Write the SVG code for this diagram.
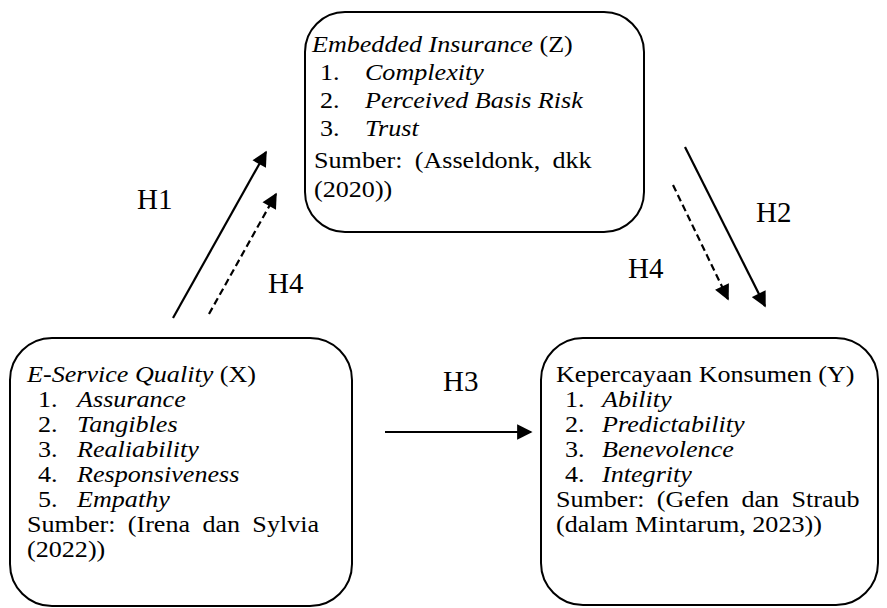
<svg xmlns="http://www.w3.org/2000/svg" width="887" height="608" viewBox="0 0 887 608" font-family="'Liberation Serif', 'Times New Roman', serif">
<style>
.box{fill:#fff;stroke:#000;stroke-width:2}
text{font-family:'Liberation Serif','Times New Roman',serif;font-size:22.5px;fill:#000}
.i{font-style:italic}
.lbl{font-size:29px}
.ln{stroke:#000;stroke-width:2.2;fill:none}
.d{stroke-dasharray:7 4}
</style>
<defs>
<marker id="ah" viewBox="0 0 10 10" refX="9" refY="5" markerWidth="7.5" markerHeight="7" orient="auto" markerUnits="strokeWidth">
<path d="M0,0 L10,5 L0,10 z" fill="#000"/>
</marker>
</defs>
<rect width="887" height="608" fill="#fff"/>
<g id="connectors">
<line class="ln" x1="173" y1="318" x2="266" y2="152" marker-end="url(#ah)"/>
<line class="ln d" x1="209" y1="314" x2="276" y2="194" marker-end="url(#ah)"/>
<line class="ln" x1="685" y1="147" x2="765" y2="306" marker-end="url(#ah)"/>
<line class="ln d" x1="673" y1="185" x2="728" y2="299" marker-end="url(#ah)"/>
<line class="ln" x1="385" y1="432" x2="531" y2="432" marker-end="url(#ah)"/>
<text class="lbl" x="137" y="209">H1</text>
<text class="lbl" x="268" y="293">H4</text>
<text class="lbl" x="756" y="222">H2</text>
<text class="lbl" x="628" y="278">H4</text>
<text class="lbl" x="443" y="391">H3</text>
</g>
<g id="nodeZ">
<rect class="box" x="305" y="12" width="339" height="220" rx="40"/>
<text transform="matrix(1.16 0 0 1 -48.8 0)"><tspan x="311" y="52" class="i">Embedded Insurance</tspan><tspan> (Z)</tspan><tspan x="318" y="80">1.</tspan><tspan x="356.7" y="80" class="i">Complexity</tspan><tspan x="318" y="108">2.</tspan><tspan x="356.7" y="108" class="i">Perceived Basis Risk</tspan><tspan x="318" y="136">3.</tspan><tspan x="356.7" y="136" class="i">Trust</tspan><tspan x="312.8" y="168" word-spacing="5">Sumber: (Asseldonk, dkk</tspan><tspan x="312.8" y="197">(2020))</tspan></text>
</g>
<g id="nodeX">
<rect class="box" x="10" y="338" width="342" height="268" rx="42"/>
<text transform="matrix(1.16 0 0 1 -1.6 0)"><tspan x="24.7" y="382" class="i">E-Service Quality</tspan><tspan> (X)</tspan><tspan x="34.1" y="407">1.</tspan><tspan x="67.8" y="407" class="i">Assurance</tspan><tspan x="34.1" y="432">2.</tspan><tspan x="67.8" y="432" class="i">Tangibles</tspan><tspan x="34.1" y="457">3.</tspan><tspan x="67.8" y="457" class="i">Realiability</tspan><tspan x="34.1" y="482">4.</tspan><tspan x="67.8" y="482" class="i">Responsiveness</tspan><tspan x="34.1" y="507">5.</tspan><tspan x="67.8" y="507" class="i">Empathy</tspan><tspan x="24.7" y="532" word-spacing="5">Sumber: (Irena dan Sylvia</tspan><tspan x="24.7" y="557">(2022))</tspan></text>
</g>
<g id="nodeY">
<rect class="box" x="541" y="338" width="337" height="267" rx="42"/>
<text transform="matrix(1.16 0 0 1 -86.56 0)"><tspan x="553.9" y="382">Kepercayaan Konsumen (Y)</tspan><tspan x="561.7" y="407">1.</tspan><tspan x="593.6" y="407" class="i">Ability</tspan><tspan x="561.7" y="432">2.</tspan><tspan x="593.6" y="432" class="i">Predictability</tspan><tspan x="561.7" y="457">3.</tspan><tspan x="593.6" y="457" class="i">Benevolence</tspan><tspan x="561.7" y="482">4.</tspan><tspan x="593.6" y="482" class="i">Integrity</tspan><tspan x="553.9" y="507" word-spacing="5">Sumber: (Gefen dan Straub</tspan><tspan x="553.9" y="532">(dalam Mintarum, 2023))</tspan></text>
</g>
</svg>
